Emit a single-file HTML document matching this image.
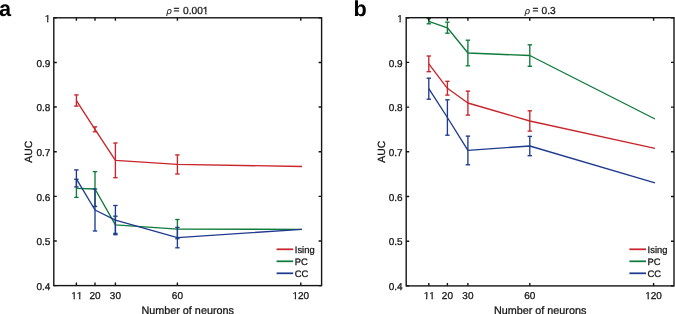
<!DOCTYPE html>
<html><head><meta charset="utf-8"><style>
html,body{margin:0;padding:0;background:#fff;width:675px;height:314px;overflow:hidden}
svg{display:block}
text{font-family:"Liberation Sans",sans-serif;text-rendering:geometricPrecision;font-kerning:none;stroke:#161616;stroke-width:0.28px}
text.p{stroke:none}
svg{will-change:transform}
</style></head><body>
<svg width="675" height="314" viewBox="0 0 675 314">
<rect width="675" height="314" fill="#fff"/>
<path d="M76.40,179.30V197.40" stroke="#0e7a3b" stroke-width="1.35" fill="none"/>
<path d="M74.20,179.30H78.60" stroke="#1d4a78" stroke-width="1.35" fill="none"/>
<path d="M74.20,197.40H78.60" stroke="#0e7a3b" stroke-width="1.35" fill="none"/>
<path d="M95.00,171.60V206.40" stroke="#0e7a3b" stroke-width="1.35" fill="none"/>
<path d="M92.80,171.60H97.20" stroke="#0e7a3b" stroke-width="1.35" fill="none"/>
<path d="M92.80,206.40H97.20" stroke="#1d4a78" stroke-width="1.35" fill="none"/>
<path d="M115.40,216.20V233.40" stroke="#0e7a3b" stroke-width="1.35" fill="none"/>
<path d="M113.20,216.20H117.60" stroke="#1d4a78" stroke-width="1.35" fill="none"/>
<path d="M113.20,233.40H117.60" stroke="#1d4a78" stroke-width="1.35" fill="none"/>
<path d="M177.40,219.50V238.70" stroke="#0e7a3b" stroke-width="1.35" fill="none"/>
<path d="M175.20,219.50H179.60" stroke="#0e7a3b" stroke-width="1.35" fill="none"/>
<path d="M175.20,238.70H179.60" stroke="#1d4a78" stroke-width="1.35" fill="none"/>
<path d="M76.40,188.40 L95.00,189.00 L115.40,224.80 L177.40,229.10 L302.00,229.30" stroke="#0e7a3b" stroke-width="1.35" fill="none" stroke-linejoin="round"/>
<path d="M76.40,94.90V106.10" stroke="#c8252c" stroke-width="1.35" fill="none"/>
<path d="M74.20,94.90H78.60" stroke="#c8252c" stroke-width="1.35" fill="none"/>
<path d="M74.20,106.10H78.60" stroke="#c8252c" stroke-width="1.35" fill="none"/>
<path d="M95.00,126.90V131.80" stroke="#c8252c" stroke-width="1.35" fill="none"/>
<path d="M92.80,126.90H97.20" stroke="#c8252c" stroke-width="1.35" fill="none"/>
<path d="M92.80,131.80H97.20" stroke="#c8252c" stroke-width="1.35" fill="none"/>
<path d="M115.40,143.00V177.70" stroke="#c8252c" stroke-width="1.35" fill="none"/>
<path d="M113.20,143.00H117.60" stroke="#c8252c" stroke-width="1.35" fill="none"/>
<path d="M113.20,177.70H117.60" stroke="#c8252c" stroke-width="1.35" fill="none"/>
<path d="M177.40,154.90V174.00" stroke="#c8252c" stroke-width="1.35" fill="none"/>
<path d="M175.20,154.90H179.60" stroke="#c8252c" stroke-width="1.35" fill="none"/>
<path d="M175.20,174.00H179.60" stroke="#c8252c" stroke-width="1.35" fill="none"/>
<path d="M76.40,100.60 L95.00,129.40 L115.40,160.30 L177.40,164.40 L302.00,166.50" stroke="#c8252c" stroke-width="1.35" fill="none" stroke-linejoin="round"/>
<path d="M76.40,169.90V186.90" stroke="#1f3a8f" stroke-width="1.35" fill="none"/>
<path d="M74.20,169.90H78.60" stroke="#1f3a8f" stroke-width="1.35" fill="none"/>
<path d="M74.20,186.90H78.60" stroke="#1f3a8f" stroke-width="1.35" fill="none"/>
<path d="M95.00,189.00V231.00" stroke="#1f3a8f" stroke-width="1.35" fill="none"/>
<path d="M92.80,189.00H97.20" stroke="#1f3a8f" stroke-width="1.35" fill="none"/>
<path d="M92.80,231.00H97.20" stroke="#1f3a8f" stroke-width="1.35" fill="none"/>
<path d="M115.40,205.50V234.70" stroke="#1f3a8f" stroke-width="1.35" fill="none"/>
<path d="M113.20,205.50H117.60" stroke="#1f3a8f" stroke-width="1.35" fill="none"/>
<path d="M113.20,234.70H117.60" stroke="#1f3a8f" stroke-width="1.35" fill="none"/>
<path d="M177.40,227.40V247.80" stroke="#1f3a8f" stroke-width="1.35" fill="none"/>
<path d="M175.20,227.40H179.60" stroke="#1f3a8f" stroke-width="1.35" fill="none"/>
<path d="M175.20,247.80H179.60" stroke="#1f3a8f" stroke-width="1.35" fill="none"/>
<path d="M76.40,178.80 L95.00,210.00 L115.40,220.10 L177.40,237.60 L302.00,229.30" stroke="#1f3a8f" stroke-width="1.35" fill="none" stroke-linejoin="round"/>
<rect x="53.8" y="17.8" width="267.8" height="267.8" fill="none" stroke="#141414" stroke-width="1.4"/>
<path d="M76.4,285.6V282.6M76.4,17.8V20.8" stroke="#141414" stroke-width="1.4"/>
<text x="76.80000000000001" y="299.0" text-anchor="middle" font-size="10" fill="#161616">11</text>
<path d="M95.0,285.6V282.6M95.0,17.8V20.8" stroke="#141414" stroke-width="1.4"/>
<text x="95.0" y="299.0" text-anchor="middle" font-size="10" fill="#161616">20</text>
<path d="M115.4,285.6V282.6M115.4,17.8V20.8" stroke="#141414" stroke-width="1.4"/>
<text x="115.4" y="299.0" text-anchor="middle" font-size="10" fill="#161616">30</text>
<path d="M177.4,285.6V282.6M177.4,17.8V20.8" stroke="#141414" stroke-width="1.4"/>
<text x="177.4" y="299.0" text-anchor="middle" font-size="10" fill="#161616">60</text>
<path d="M300.8,285.6V282.6M300.8,17.8V20.8" stroke="#141414" stroke-width="1.4"/>
<text x="300.8" y="299.0" text-anchor="middle" font-size="10" fill="#161616">120</text>
<path d="M53.8,285.6H56.8M321.6,285.6H318.6" stroke="#141414" stroke-width="1.4"/>
<text x="50.3" y="289.8" text-anchor="end" font-size="10" fill="#161616">0.4</text>
<path d="M53.8,240.97H56.8M321.6,240.97H318.6" stroke="#141414" stroke-width="1.4"/>
<text x="50.3" y="245.17" text-anchor="end" font-size="10" fill="#161616">0.5</text>
<path d="M53.8,196.33H56.8M321.6,196.33H318.6" stroke="#141414" stroke-width="1.4"/>
<text x="50.3" y="200.53" text-anchor="end" font-size="10" fill="#161616">0.6</text>
<path d="M53.8,151.7H56.8M321.6,151.7H318.6" stroke="#141414" stroke-width="1.4"/>
<text x="50.3" y="155.89999999999998" text-anchor="end" font-size="10" fill="#161616">0.7</text>
<path d="M53.8,107.07H56.8M321.6,107.07H318.6" stroke="#141414" stroke-width="1.4"/>
<text x="50.3" y="111.27" text-anchor="end" font-size="10" fill="#161616">0.8</text>
<path d="M53.8,62.43H56.8M321.6,62.43H318.6" stroke="#141414" stroke-width="1.4"/>
<text x="50.3" y="66.63" text-anchor="end" font-size="10" fill="#161616">0.9</text>
<path d="M53.8,17.8H56.8M321.6,17.8H318.6" stroke="#141414" stroke-width="1.4"/>
<text x="50.3" y="22.0" text-anchor="end" font-size="10" fill="#161616">1</text>
<text y="13.7" font-size="10.2" fill="#161616"><tspan x="166.4" font-style="italic" font-size="9.2" style="stroke-width:0.1px">&#961;</tspan><tspan x="173.5" y="12.9">=</tspan><tspan x="183.0" y="13.7">0.001</tspan></text>
<text transform="translate(31.7,151.70000000000002) rotate(-90)" text-anchor="middle" font-size="10.4" fill="#161616">AUC</text>
<text x="187.70000000000002" y="313.6" text-anchor="middle" font-size="10.8" fill="#161616">Number of neurons</text>
<text x="-1.0" y="15.6" font-size="21.7" font-weight="bold" fill="#000" class="p">a</text>
<path d="M276.59999999999997,249.3H293.2" stroke="#c8252c" stroke-width="1.75"/>
<text x="294.8" y="252.9" font-size="9.4" fill="#161616">Ising</text>
<path d="M276.59999999999997,261.3H293.2" stroke="#0e7a3b" stroke-width="1.75"/>
<text x="294.8" y="264.90000000000003" font-size="9.4" fill="#161616">PC</text>
<path d="M276.59999999999997,273.3H293.2" stroke="#1f3a8f" stroke-width="1.75"/>
<text x="294.8" y="276.90000000000003" font-size="9.4" fill="#161616">CC</text>
<path d="M428.80,56.00V71.70" stroke="#c8252c" stroke-width="1.35" fill="none"/>
<path d="M426.60,56.00H431.00" stroke="#c8252c" stroke-width="1.35" fill="none"/>
<path d="M426.60,71.70H431.00" stroke="#c8252c" stroke-width="1.35" fill="none"/>
<path d="M447.40,81.30V95.10" stroke="#c8252c" stroke-width="1.35" fill="none"/>
<path d="M445.20,81.30H449.60" stroke="#c8252c" stroke-width="1.35" fill="none"/>
<path d="M445.20,95.10H449.60" stroke="#c8252c" stroke-width="1.35" fill="none"/>
<path d="M467.90,91.10V115.10" stroke="#c8252c" stroke-width="1.35" fill="none"/>
<path d="M465.70,91.10H470.10" stroke="#c8252c" stroke-width="1.35" fill="none"/>
<path d="M465.70,115.10H470.10" stroke="#c8252c" stroke-width="1.35" fill="none"/>
<path d="M529.80,110.80V131.10" stroke="#c8252c" stroke-width="1.35" fill="none"/>
<path d="M527.60,110.80H532.00" stroke="#c8252c" stroke-width="1.35" fill="none"/>
<path d="M527.60,131.10H532.00" stroke="#c8252c" stroke-width="1.35" fill="none"/>
<path d="M428.80,63.90 L447.40,88.30 L467.90,103.00 L529.80,121.00 L655.00,148.40" stroke="#c8252c" stroke-width="1.35" fill="none" stroke-linejoin="round"/>
<path d="M428.80,78.20V99.20" stroke="#1f3a8f" stroke-width="1.35" fill="none"/>
<path d="M426.60,78.20H431.00" stroke="#1f3a8f" stroke-width="1.35" fill="none"/>
<path d="M426.60,99.20H431.00" stroke="#1f3a8f" stroke-width="1.35" fill="none"/>
<path d="M447.40,99.80V135.20" stroke="#1f3a8f" stroke-width="1.35" fill="none"/>
<path d="M445.20,99.80H449.60" stroke="#1f3a8f" stroke-width="1.35" fill="none"/>
<path d="M445.20,135.20H449.60" stroke="#1f3a8f" stroke-width="1.35" fill="none"/>
<path d="M467.90,136.10V164.80" stroke="#1f3a8f" stroke-width="1.35" fill="none"/>
<path d="M465.70,136.10H470.10" stroke="#1f3a8f" stroke-width="1.35" fill="none"/>
<path d="M465.70,164.80H470.10" stroke="#1f3a8f" stroke-width="1.35" fill="none"/>
<path d="M529.80,136.40V155.70" stroke="#1f3a8f" stroke-width="1.35" fill="none"/>
<path d="M527.60,136.40H532.00" stroke="#1f3a8f" stroke-width="1.35" fill="none"/>
<path d="M527.60,155.70H532.00" stroke="#1f3a8f" stroke-width="1.35" fill="none"/>
<path d="M428.80,88.70 L447.40,117.50 L467.90,150.40 L529.80,146.00 L655.00,182.80" stroke="#1f3a8f" stroke-width="1.35" fill="none" stroke-linejoin="round"/>
<path d="M428.80,18.60V23.80" stroke="#0e7a3b" stroke-width="1.35" fill="none"/>
<path d="M426.60,18.60H431.00" stroke="#0e7a3b" stroke-width="1.35" fill="none"/>
<path d="M426.60,23.80H431.00" stroke="#0e7a3b" stroke-width="1.35" fill="none"/>
<path d="M447.40,22.20V33.20" stroke="#0e7a3b" stroke-width="1.35" fill="none"/>
<path d="M445.20,22.20H449.60" stroke="#0e7a3b" stroke-width="1.35" fill="none"/>
<path d="M445.20,33.20H449.60" stroke="#0e7a3b" stroke-width="1.35" fill="none"/>
<path d="M467.90,40.20V65.80" stroke="#0e7a3b" stroke-width="1.35" fill="none"/>
<path d="M465.70,40.20H470.10" stroke="#0e7a3b" stroke-width="1.35" fill="none"/>
<path d="M465.70,65.80H470.10" stroke="#0e7a3b" stroke-width="1.35" fill="none"/>
<path d="M529.80,44.80V66.30" stroke="#0e7a3b" stroke-width="1.35" fill="none"/>
<path d="M527.60,44.80H532.00" stroke="#0e7a3b" stroke-width="1.35" fill="none"/>
<path d="M527.60,66.30H532.00" stroke="#0e7a3b" stroke-width="1.35" fill="none"/>
<path d="M428.80,21.30 L447.40,27.80 L467.90,53.00 L529.80,55.50 L655.00,119.00" stroke="#0e7a3b" stroke-width="1.35" fill="none" stroke-linejoin="round"/>
<rect x="406.2" y="17.7" width="267.8" height="268.2" fill="none" stroke="#141414" stroke-width="1.4"/>
<path d="M428.8,285.9V282.9M428.8,17.7V20.7" stroke="#141414" stroke-width="1.4"/>
<text x="429.2" y="299.29999999999995" text-anchor="middle" font-size="10" fill="#161616">11</text>
<path d="M447.4,285.9V282.9M447.4,17.7V20.7" stroke="#141414" stroke-width="1.4"/>
<text x="447.4" y="299.29999999999995" text-anchor="middle" font-size="10" fill="#161616">20</text>
<path d="M467.9,285.9V282.9M467.9,17.7V20.7" stroke="#141414" stroke-width="1.4"/>
<text x="467.9" y="299.29999999999995" text-anchor="middle" font-size="10" fill="#161616">30</text>
<path d="M529.8,285.9V282.9M529.8,17.7V20.7" stroke="#141414" stroke-width="1.4"/>
<text x="529.8" y="299.29999999999995" text-anchor="middle" font-size="10" fill="#161616">60</text>
<path d="M653.6,285.9V282.9M653.6,17.7V20.7" stroke="#141414" stroke-width="1.4"/>
<text x="653.6" y="299.29999999999995" text-anchor="middle" font-size="10" fill="#161616">120</text>
<path d="M406.2,285.9H409.2M674.0,285.9H671.0" stroke="#141414" stroke-width="1.4"/>
<text x="402.7" y="290.09999999999997" text-anchor="end" font-size="10" fill="#161616">0.4</text>
<path d="M406.2,241.2H409.2M674.0,241.2H671.0" stroke="#141414" stroke-width="1.4"/>
<text x="402.7" y="245.39999999999998" text-anchor="end" font-size="10" fill="#161616">0.5</text>
<path d="M406.2,196.5H409.2M674.0,196.5H671.0" stroke="#141414" stroke-width="1.4"/>
<text x="402.7" y="200.7" text-anchor="end" font-size="10" fill="#161616">0.6</text>
<path d="M406.2,151.8H409.2M674.0,151.8H671.0" stroke="#141414" stroke-width="1.4"/>
<text x="402.7" y="156.0" text-anchor="end" font-size="10" fill="#161616">0.7</text>
<path d="M406.2,107.1H409.2M674.0,107.1H671.0" stroke="#141414" stroke-width="1.4"/>
<text x="402.7" y="111.3" text-anchor="end" font-size="10" fill="#161616">0.8</text>
<path d="M406.2,62.4H409.2M674.0,62.4H671.0" stroke="#141414" stroke-width="1.4"/>
<text x="402.7" y="66.6" text-anchor="end" font-size="10" fill="#161616">0.9</text>
<path d="M406.2,17.7H409.2M674.0,17.7H671.0" stroke="#141414" stroke-width="1.4"/>
<text x="402.7" y="21.9" text-anchor="end" font-size="10" fill="#161616">1</text>
<text y="13.7" font-size="10.2" fill="#161616"><tspan x="524.7" font-style="italic" font-size="9.2" style="stroke-width:0.1px">&#961;</tspan><tspan x="532.5" y="12.9">=</tspan><tspan x="541.5" y="13.7">0.3</tspan></text>
<text transform="translate(384.8,151.79999999999998) rotate(-90)" text-anchor="middle" font-size="10.4" fill="#161616">AUC</text>
<text x="540.1" y="313.6" text-anchor="middle" font-size="10.8" fill="#161616">Number of neurons</text>
<text x="353.4" y="15.6" font-size="21.7" font-weight="bold" fill="#000" class="p">b</text>
<path d="M629.4,249.3H646.0" stroke="#c8252c" stroke-width="1.75"/>
<text x="647.6" y="252.9" font-size="9.4" fill="#161616">Ising</text>
<path d="M629.4,261.3H646.0" stroke="#0e7a3b" stroke-width="1.75"/>
<text x="647.6" y="264.90000000000003" font-size="9.4" fill="#161616">PC</text>
<path d="M629.4,273.3H646.0" stroke="#1f3a8f" stroke-width="1.75"/>
<text x="647.6" y="276.90000000000003" font-size="9.4" fill="#161616">CC</text>
<rect x="71.24" y="297.25" width="2.27" height="2.75" fill="#fff"/><rect x="74.89" y="297.25" width="1.91" height="2.75" fill="#fff"/><rect x="76.80" y="297.25" width="2.27" height="2.75" fill="#fff"/><rect x="80.45" y="297.25" width="1.91" height="2.75" fill="#fff"/><rect x="292.46" y="297.25" width="2.26" height="2.75" fill="#fff"/><rect x="296.11" y="297.25" width="1.91" height="2.75" fill="#fff"/><rect x="44.74" y="20.25" width="2.27" height="2.75" fill="#fff"/><rect x="48.39" y="20.25" width="1.91" height="2.75" fill="#fff"/><rect x="202.85" y="11.94" width="2.32" height="2.76" fill="#fff"/><rect x="206.57" y="11.94" width="1.96" height="2.76" fill="#fff"/><rect x="423.64" y="297.55" width="2.26" height="2.75" fill="#fff"/><rect x="427.29" y="297.55" width="1.91" height="2.75" fill="#fff"/><rect x="429.20" y="297.55" width="2.26" height="2.75" fill="#fff"/><rect x="432.85" y="297.55" width="1.91" height="2.75" fill="#fff"/><rect x="645.26" y="297.55" width="2.26" height="2.75" fill="#fff"/><rect x="648.91" y="297.55" width="1.91" height="2.75" fill="#fff"/><rect x="397.14" y="20.15" width="2.26" height="2.75" fill="#fff"/><rect x="400.79" y="20.15" width="1.91" height="2.75" fill="#fff"/>
</svg>
</body></html>
